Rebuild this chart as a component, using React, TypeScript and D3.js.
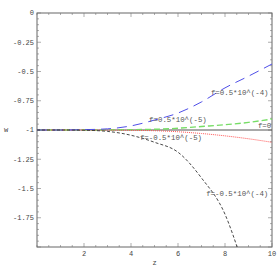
import { useEffect, useRef } from "react"
import * as d3 from "d3"

// z values shared by the curves
const zs = [0, 1, 2, 3, 4, 5, 6, 7, 8, 9, 10]

const wPos4 = [-1, -1, -0.997, -0.99, -0.965, -0.915, -0.855, -0.76, -0.64, -0.54, -0.436]
const wPos5 = [-1, -1, -1, -0.999, -0.997, -0.994, -0.985, -0.97, -0.955, -0.935, -0.906]
const wZero = [-1, -1, -1, -1, -1, -1, -1, -1, -1, -1, -1]
const wNeg5 = [-1, -1, -1, -1.001, -1.003, -1.006, -1.015, -1.03, -1.05, -1.075, -1.105]

const zNeg4 = [0, 1, 2, 3, 4, 5, 6, 7, 8, 8.6]
const wNeg4 = [-1, -1, -1.002, -1.012, -1.045, -1.105, -1.19, -1.41, -1.72, -2.05]

const xTicks = [2, 4, 6, 8, 10]
const yTicks = [0, -0.25, -0.5, -0.75, -1, -1.25, -1.5, -1.75]
const yTickLabels = ["0", "-0.25", "-0.5", "-0.75", "-1", "-1.25", "-1.5", "-1.75"]

const labels = [
  { text: "f=0.5*10^(-4)", z: 7.4, w: -0.675 },
  { text: "f=0.5*10^(-5)", z: 4.77, w: -0.906 },
  { text: "f=0", z: 9.4, w: -0.957 },
  { text: "f=-0.5*10^(-5)", z: 4.38, w: -1.06 },
  { text: "f=-0.5*10^(-4)", z: 7.2, w: -1.54 },
]

const width = 277
const height = 277
const margin = { top: 13, right: 5, bottom: 30, left: 37 }
const font = "'Liberation Mono', monospace"

export default function App() {
  const svgRef = useRef<SVGSVGElement>(null)

  useEffect(() => {
    if (!svgRef.current) return
    d3.select(svgRef.current).selectAll("*").remove()

    const svg = d3.select(svgRef.current).attr("width", width).attr("height", height)

    const x = d3.scaleLinear().domain([0, 10]).range([margin.left, width - margin.right])
    const y = d3.scaleLinear().domain([-2, 0]).range([height - margin.bottom, margin.top])

    const [x0, x1] = x.range()
    const [y1, y0] = y.range()

    svg
      .append("defs")
      .append("clipPath")
      .attr("id", "plot")
      .append("rect")
      .attr("x", x0)
      .attr("y", y0)
      .attr("width", x1 - x0)
      .attr("height", y1 - y0)

    // Frame
    svg
      .append("rect")
      .attr("x", x0)
      .attr("y", y0)
      .attr("width", x1 - x0)
      .attr("height", y1 - y0)
      .attr("fill", "none")
      .attr("stroke", "#666")
      .attr("stroke-width", 1)

    const tickColor = "#777"
    // Ticks on all four sides
    const xMinor = d3.range(0, 10.001, 0.5)
    xMinor.forEach((v) => {
      const major = Math.abs(v % 2) < 1e-6 && v > 0
      const len = major ? 4 : 2
      svg.append("line").attr("x1", x(v)).attr("x2", x(v)).attr("y1", y1).attr("y2", y1 - len).attr("stroke", tickColor).attr("stroke-width", 0.6)
      svg.append("line").attr("x1", x(v)).attr("x2", x(v)).attr("y1", y0).attr("y2", y0 + len).attr("stroke", tickColor).attr("stroke-width", 0.6)
    })
    const yMinor = d3.range(-2, 0.001, 0.05)
    yMinor.forEach((v) => {
      const major = Math.abs((v * 4) - Math.round(v * 4)) < 1e-6
      const len = major ? 4 : 2
      svg.append("line").attr("x1", x0).attr("x2", x0 + len).attr("y1", y(v)).attr("y2", y(v)).attr("stroke", tickColor).attr("stroke-width", 0.6)
      svg.append("line").attr("x1", x1).attr("x2", x1 - len).attr("y1", y(v)).attr("y2", y(v)).attr("stroke", tickColor).attr("stroke-width", 0.6)
    })

    svg
      .selectAll(".xl")
      .data(xTicks)
      .enter()
      .append("text")
      .attr("x", (d) => x(d))
      .attr("y", y1 + 9)
      .attr("text-anchor", "middle")
      .attr("font-family", font)
      .attr("font-size", "7px")
      .attr("fill", "#444")
      .text((d) => String(d))

    svg
      .selectAll(".yl")
      .data(yTicks)
      .enter()
      .append("text")
      .attr("x", x0 - 3)
      .attr("y", (d) => y(d))
      .attr("dy", "0.35em")
      .attr("text-anchor", "end")
      .attr("font-family", font)
      .attr("font-size", "7px")
      .attr("fill", "#444")
      .text((d, i) => yTickLabels[i])

    // Axis titles
    svg.append("text").attr("x", 6).attr("y", y(-1)).attr("dy", "0.35em").attr("text-anchor", "middle")
      .attr("font-family", font).attr("font-size", "7px").attr("fill", "#444").text("w")
    svg.append("text").attr("x", x(5)).attr("y", y1 + 18).attr("text-anchor", "middle")
      .attr("font-family", font).attr("font-size", "7px").attr("fill", "#444").text("z")

    // w = -1 line
    svg.append("line").attr("x1", x0).attr("x2", x1).attr("y1", y(-1)).attr("y2", y(-1)).attr("stroke", "#555").attr("stroke-width", 1)

    const line = d3
      .line<[number, number]>()
      .x((d) => x(d[0]))
      .y((d) => y(d[1]))
      .curve(d3.curveMonotoneX)

    const plot = svg.append("g").attr("clip-path", "url(#plot)")

    const series = [
      { z: zs, w: wZero, color: "none", dash: "", width: 0 },
      { z: zs, w: wPos5, color: "#77dd66", dash: "6,3", width: 1.4 },
      { z: zs, w: wNeg5, color: "#ff5555", dash: "1,1", width: 1 },
      { z: zs, w: wPos4, color: "#4f4fe8", dash: "10,6", width: 1 },
      { z: zNeg4, w: wNeg4, color: "#333", dash: "3,2", width: 0.9 },
    ]

    series.forEach((s) => {
      if (s.color === "none") return
      plot
        .append("path")
        .attr("d", line(s.z.map((z, i) => [z, s.w[i]] as [number, number])))
        .attr("fill", "none")
        .attr("stroke", s.color)
        .attr("stroke-width", s.width)
        .attr("stroke-dasharray", s.dash)
    })

    svg
      .selectAll(".lab")
      .data(labels)
      .enter()
      .append("text")
      .attr("x", (d) => x(d.z))
      .attr("y", (d) => y(d.w))
      .attr("dy", "0.35em")
      .attr("font-family", font)
      .attr("font-size", "7.4px")
      .attr("fill", "#555")
      .text((d) => d.text)
  }, [])

  return <svg ref={svgRef} style={{ position: "absolute", left: 0, top: 0 }} />
}
